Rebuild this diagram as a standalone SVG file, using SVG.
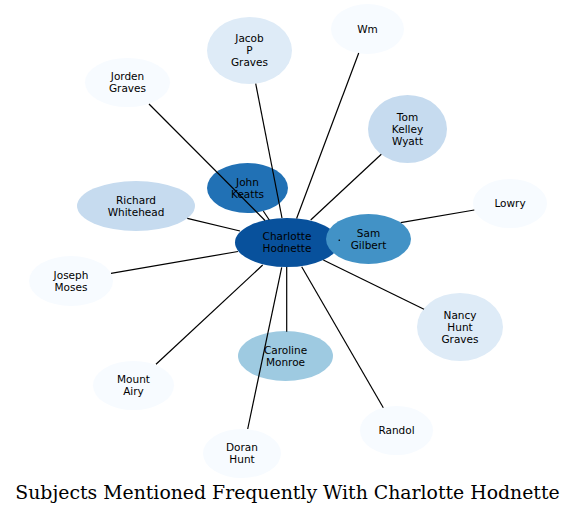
<svg xmlns="http://www.w3.org/2000/svg" width="576" height="514" viewBox="0 0 576 514">
<style>
.lbl{font-family:"DejaVu Sans","Liberation Sans",sans-serif;font-size:10.5px;fill:#000;text-anchor:middle}
.ttl{font-family:"DejaVu Serif","Liberation Serif",serif;font-size:18.85px;fill:#000;text-anchor:middle}
.e{stroke:#000;stroke-width:1.2;fill:none}
.c0{fill:#08519c}.c1{fill:#2171b5}.c2{fill:#4292c6}.c3{fill:#9ecae1}.c4{fill:#c6dbef}.c5{fill:#deebf7}.c6{fill:#f7fbff}
</style>
<rect width="576" height="514" fill="#fff"/>
<g id="nodes">
<g id="charlotte"><ellipse class="c0" cx="287" cy="242.5" rx="52" ry="24.5"/><text class="lbl" x="287" y="240.3">Charlotte</text><text class="lbl" x="287" y="252.3">Hodnette</text></g>
<g id="sam"><ellipse class="c2" cx="368.5" cy="239" rx="42.5" ry="25"/><text class="lbl" x="368.5" y="236.8">Sam</text><text class="lbl" x="368.5" y="248.8">Gilbert</text></g>
<g id="john"><ellipse class="c1" cx="247.5" cy="188" rx="40.5" ry="25"/><text class="lbl" x="247.5" y="185.8">John</text><text class="lbl" x="247.5" y="197.8">Keatts</text></g>
<g id="jacob"><ellipse class="c5" cx="249.5" cy="50.5" rx="42.5" ry="33.5"/><text class="lbl" x="249.5" y="42.3">Jacob</text><text class="lbl" x="249.5" y="54.3">P</text><text class="lbl" x="249.5" y="66.3">Graves</text></g>
<g id="jorden"><ellipse class="c6" cx="127.5" cy="82.5" rx="42.5" ry="24.5"/><text class="lbl" x="127.5" y="80.3">Jorden</text><text class="lbl" x="127.5" y="92.3">Graves</text></g>
<g id="wm"><ellipse class="c6" cx="367.5" cy="29" rx="36.5" ry="25"/><text class="lbl" x="367.5" y="32.8">Wm</text></g>
<g id="tom"><ellipse class="c4" cx="407.5" cy="129" rx="39.5" ry="34"/><text class="lbl" x="407.5" y="120.8">Tom</text><text class="lbl" x="407.5" y="132.8">Kelley</text><text class="lbl" x="407.5" y="144.8">Wyatt</text></g>
<g id="lowry"><ellipse class="c6" cx="510" cy="203.5" rx="37" ry="24.5"/><text class="lbl" x="510" y="207.3">Lowry</text></g>
<g id="richard"><ellipse class="c4" cx="136" cy="206" rx="59" ry="25"/><text class="lbl" x="136" y="203.8">Richard</text><text class="lbl" x="136" y="215.8">Whitehead</text></g>
<g id="joseph"><ellipse class="c6" cx="71" cy="281" rx="42" ry="25"/><text class="lbl" x="71" y="278.8">Joseph</text><text class="lbl" x="71" y="290.8">Moses</text></g>
<g id="mount"><ellipse class="c6" cx="133.5" cy="385.5" rx="40.5" ry="24.5"/><text class="lbl" x="133.5" y="383.3">Mount</text><text class="lbl" x="133.5" y="395.3">Airy</text></g>
<g id="caroline"><ellipse class="c3" cx="285.5" cy="356" rx="47.5" ry="25"/><text class="lbl" x="285.5" y="353.8">Caroline</text><text class="lbl" x="285.5" y="365.8">Monroe</text></g>
<g id="doran"><ellipse class="c6" cx="242" cy="453.5" rx="39" ry="24.5"/><text class="lbl" x="242" y="451.3">Doran</text><text class="lbl" x="242" y="463.3">Hunt</text></g>
<g id="randol"><ellipse class="c6" cx="396.5" cy="430.5" rx="36.5" ry="24.5"/><text class="lbl" x="396.5" y="434.3">Randol</text></g>
<g id="nancy"><ellipse class="c5" cx="460" cy="327" rx="43" ry="34"/><text class="lbl" x="460" y="318.8">Nancy</text><text class="lbl" x="460" y="330.8">Hunt</text><text class="lbl" x="460" y="342.8">Graves</text></g>
</g>
<g id="edges">
<line class="e" x1="149" y1="104" x2="265" y2="220.5"/>
<line class="e" x1="255.7" y1="83.7" x2="282" y2="218"/>
<line class="e" x1="263.3" y1="211" x2="269.3" y2="220"/>
<line class="e" x1="358.7" y1="53" x2="296.6" y2="218.5"/>
<line class="e" x1="381.3" y1="154.3" x2="310.7" y2="220"/>
<line class="e" x1="474.3" y1="210" x2="400.7" y2="222.7"/>
<line class="e" x1="187.3" y1="218.3" x2="240" y2="231"/>
<line class="e" x1="111" y1="273.3" x2="238" y2="251.5"/>
<line class="e" x1="156" y1="364.3" x2="262.7" y2="265"/>
<line class="e" x1="247.7" y1="429" x2="281.7" y2="267.3"/>
<line class="e" x1="286.7" y1="267" x2="286.7" y2="331.7"/>
<line class="e" x1="383.3" y1="407.7" x2="301.7" y2="266.7"/>
<line class="e" x1="424" y1="309.3" x2="323.3" y2="260"/>
<line class="e" x1="338.6" y1="240.3" x2="340" y2="240.1"/>
</g>
<text class="ttl" x="287.5" y="499">Subjects Mentioned Frequently With Charlotte Hodnette</text>
</svg>
